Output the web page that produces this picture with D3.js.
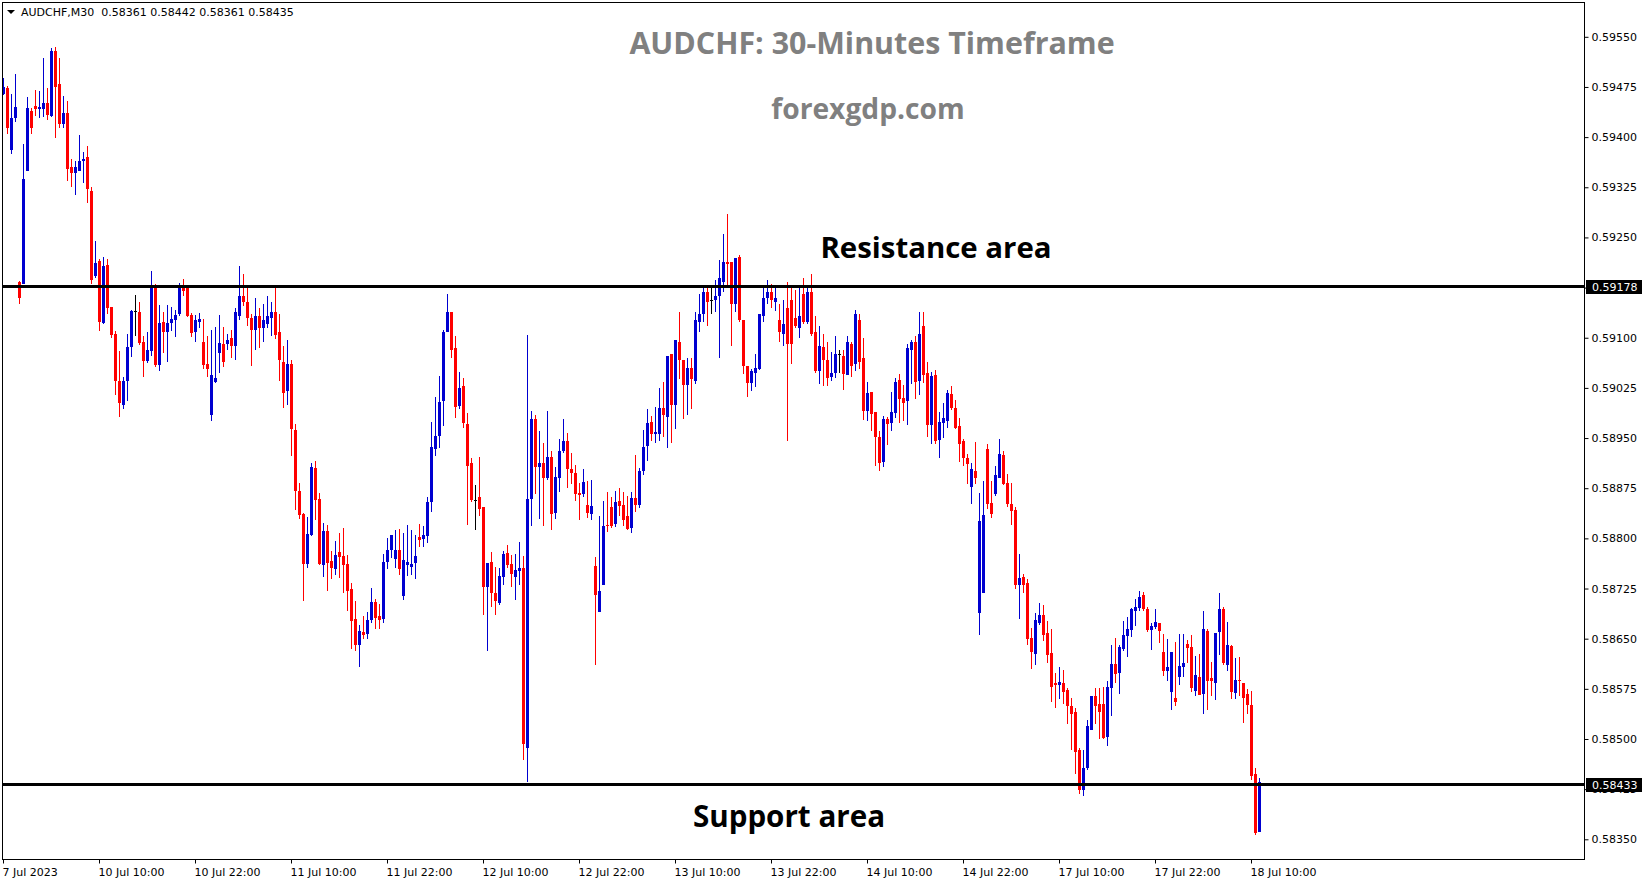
<!DOCTYPE html>
<html><head><meta charset="utf-8">
<script src="https://cdn.jsdelivr.net/npm/d3@7"></script>
<style>html,body{margin:0;padding:0;background:#fff;overflow:hidden}</style>
</head><body>
<svg id="c" width="1649" height="884"></svg>
<script>
// AUDCHF M30 candles, 7 Jul 2023 22:00 .. 18 Jul 2023 11:00
const openP = [0.59464,0.59474,0.59380,0.59428,0.59183,0.59181,0.59350,0.59439,0.59446,0.59442,
0.59442,0.59451,0.59431,0.59529,0.59479,0.59419,0.59436,0.59355,0.59346,0.59350,
0.59364,0.59370,0.59320,0.59193,0.59215,0.59122,0.59209,0.59146,0.59106,0.59035,
0.59000,0.59035,0.59086,0.59140,0.59138,0.59093,0.59065,0.59080,0.59177,0.59059,
0.59123,0.59108,0.59122,0.59126,0.59135,0.59176,0.59174,0.59134,0.59108,0.59123,
0.59093,0.59060,0.58985,0.59034,0.59077,0.59090,0.59090,0.59099,0.59087,0.59133,
0.59162,0.59154,0.59129,0.59111,0.59133,0.59114,0.59121,0.59130,0.59138,0.59108,
0.59064,0.59021,0.59061,0.58962,0.58871,0.58836,0.58761,0.58805,0.58905,0.58859,
0.58760,0.58811,0.58766,0.58754,0.58779,0.58773,0.58761,0.58725,0.58680,0.58641,
0.58660,0.58657,0.58678,0.58705,0.58684,0.58679,0.58764,0.58782,0.58769,0.58782,
0.58714,0.58760,0.58757,0.58763,0.58802,0.58799,0.58803,0.58854,0.58934,0.58953,
0.59006,0.59108,0.59138,0.59084,0.58998,0.59028,0.58971,0.58913,0.58857,0.58862,
0.58847,0.58727,0.58764,0.58719,0.58704,0.58742,0.58778,0.58762,0.58742,0.58751,
0.58756,0.58486,0.58859,0.58979,0.58906,0.58913,0.58891,0.58922,0.58838,0.58891,
0.58930,0.58946,0.58904,0.58897,0.58868,0.58867,0.58850,0.58837,0.58758,0.58690,
0.58730,0.58820,0.58847,0.58821,0.58856,0.58850,0.58833,0.58815,0.58860,0.58850,
0.58900,0.58938,0.58974,0.58956,0.58956,0.58995,0.58982,0.59076,0.59000,0.59094,
0.59067,0.59030,0.59055,0.59036,0.59124,0.59136,0.59168,0.59157,0.59157,0.59162,
0.59184,0.59213,0.59213,0.59151,0.59220,0.59127,0.59058,0.59033,0.59048,0.59054,
0.59133,0.59160,0.59168,0.59154,0.59126,0.59105,0.59145,0.59156,0.59129,0.59114,
0.59165,0.59123,0.59168,0.59108,0.59051,0.59086,0.59067,0.59042,0.59048,0.59075,
0.59072,0.59045,0.59091,0.59060,0.59126,0.59070,0.58991,0.59019,0.58989,0.58952,
0.58914,0.58979,0.58973,0.58988,0.59037,0.59010,0.59006,0.59082,0.59093,0.59036,
0.59117,0.59048,0.58970,0.59045,0.58947,0.58973,0.58976,0.59016,0.58995,0.58968,
0.58946,0.58920,0.58877,0.58901,0.58688,0.58718,0.58934,0.58853,0.58866,0.58890,
0.58925,0.58883,0.58851,0.58842,0.58730,0.58742,0.58733,0.58651,0.58627,0.58673,
0.58686,0.58658,0.58628,0.58583,0.58580,0.58583,0.58573,0.58550,0.58540,0.58483,
0.58424,0.58457,0.58514,0.58565,0.58553,0.58552,0.58503,0.58576,0.58612,0.58598,
0.58635,0.58654,0.58663,0.58692,0.58696,0.58716,0.58695,0.58663,0.58668,0.58673,
0.58630,0.58601,0.58570,0.58562,0.58592,0.58607,0.58642,0.58638,0.58572,0.58593,
0.58568,0.58662,0.58591,0.58584,0.58660,0.58694,0.58610,0.58639,0.58569,0.58588,
0.58583,0.58567,0.58551,0.58447,0.58361];
const highP = [0.59488,0.59477,0.59464,0.59494,0.59185,0.59390,0.59460,0.59443,0.59470,0.59469,
0.59518,0.59473,0.59533,0.59535,0.59518,0.59461,0.59454,0.59367,0.59364,0.59403,
0.59377,0.59386,0.59325,0.59244,0.59218,0.59221,0.59218,0.59146,0.59110,0.59080,
0.59042,0.59106,0.59141,0.59164,0.59153,0.59102,0.59108,0.59200,0.59180,0.59149,
0.59138,0.59149,0.59146,0.59141,0.59182,0.59188,0.59176,0.59137,0.59134,0.59137,
0.59128,0.59102,0.59111,0.59116,0.59134,0.59116,0.59106,0.59112,0.59144,0.59208,
0.59195,0.59174,0.59136,0.59159,0.59144,0.59151,0.59162,0.59153,0.59175,0.59135,
0.59088,0.59097,0.59067,0.58971,0.58883,0.58838,0.58832,0.58913,0.58916,0.58868,
0.58823,0.58820,0.58781,0.58796,0.58808,0.58816,0.58775,0.58734,0.58707,0.58671,
0.58684,0.58690,0.58726,0.58709,0.58702,0.58776,0.58800,0.58805,0.58812,0.58814,
0.58808,0.58820,0.58812,0.58805,0.58822,0.58818,0.58862,0.58974,0.59012,0.59043,
0.59112,0.59165,0.59139,0.59102,0.59049,0.59040,0.58988,0.58920,0.58880,0.58922,
0.58847,0.58763,0.58779,0.58757,0.58755,0.58781,0.58790,0.58775,0.58777,0.58795,
0.58774,0.59104,0.58991,0.58985,0.58961,0.58942,0.58990,0.58931,0.58907,0.58949,
0.58978,0.58958,0.58928,0.58910,0.58883,0.58904,0.58886,0.58888,0.58772,0.58833,
0.58856,0.58869,0.58862,0.58871,0.58875,0.58869,0.58863,0.58870,0.58925,0.58905,
0.58962,0.58994,0.58983,0.58997,0.59025,0.59034,0.59072,0.59076,0.59097,0.59138,
0.59067,0.59069,0.59070,0.59138,0.59165,0.59174,0.59174,0.59174,0.59186,0.59216,
0.59255,0.59285,0.59214,0.59219,0.59223,0.59127,0.59058,0.59054,0.59075,0.59136,
0.59174,0.59186,0.59180,0.59174,0.59150,0.59156,0.59184,0.59174,0.59171,0.59177,
0.59190,0.59174,0.59195,0.59133,0.59118,0.59106,0.59093,0.59078,0.59102,0.59082,
0.59082,0.59103,0.59094,0.59142,0.59136,0.59099,0.59034,0.59019,0.58989,0.58961,
0.58983,0.58982,0.59019,0.59040,0.59046,0.59030,0.59091,0.59097,0.59103,0.59138,
0.59138,0.59064,0.59049,0.59052,0.58989,0.59003,0.59022,0.59028,0.59007,0.58980,
0.58949,0.58926,0.58913,0.58944,0.58868,0.58886,0.58941,0.58886,0.58908,0.58949,
0.58931,0.58896,0.58883,0.58847,0.58776,0.58747,0.58739,0.58666,0.58688,0.58704,
0.58700,0.58676,0.58664,0.58598,0.58607,0.58603,0.58576,0.58562,0.58546,0.58486,
0.58483,0.58529,0.58565,0.58576,0.58576,0.58578,0.58587,0.58640,0.58651,0.58641,
0.58676,0.58683,0.58696,0.58710,0.58722,0.58720,0.58698,0.58674,0.58694,0.58673,
0.58657,0.58650,0.58630,0.58645,0.58657,0.58657,0.58648,0.58656,0.58624,0.58627,
0.58692,0.58664,0.58615,0.58659,0.58718,0.58698,0.58675,0.58640,0.58621,0.58623,
0.58583,0.58575,0.58572,0.58456,0.58442];
const lowP = [0.59463,0.59404,0.59374,0.59422,0.59151,0.59180,0.59350,0.59405,0.59431,0.59429,
0.59430,0.59425,0.59430,0.59398,0.59413,0.59413,0.59335,0.59326,0.59314,0.59350,
0.59332,0.59302,0.59181,0.59190,0.59110,0.59121,0.59136,0.59100,0.59014,0.58981,
0.58993,0.59005,0.59071,0.59102,0.59089,0.59041,0.59062,0.59072,0.59056,0.59051,
0.59077,0.59063,0.59110,0.59101,0.59132,0.59162,0.59131,0.59101,0.59093,0.59115,
0.59053,0.59042,0.58976,0.59033,0.59047,0.59056,0.59081,0.59069,0.59066,0.59127,
0.59147,0.59118,0.59057,0.59081,0.59085,0.59093,0.59114,0.59102,0.59098,0.59036,
0.58995,0.59000,0.58923,0.58842,0.58829,0.58707,0.58755,0.58803,0.58827,0.58760,
0.58742,0.58721,0.58739,0.58745,0.58740,0.58719,0.58691,0.58635,0.58632,0.58607,
0.58649,0.58649,0.58673,0.58664,0.58665,0.58674,0.58754,0.58771,0.58756,0.58745,
0.58708,0.58743,0.58745,0.58739,0.58787,0.58787,0.58793,0.58839,0.58923,0.58935,
0.58968,0.59108,0.59070,0.58980,0.58994,0.58965,0.58820,0.58854,0.58812,0.58833,
0.58686,0.58631,0.58698,0.58685,0.58700,0.58730,0.58756,0.58727,0.58708,0.58730,
0.58469,0.58435,0.58819,0.58867,0.58829,0.58819,0.58888,0.58813,0.58829,0.58870,
0.58927,0.58876,0.58882,0.58856,0.58828,0.58862,0.58831,0.58828,0.58610,0.58690,
0.58730,0.58809,0.58815,0.58817,0.58833,0.58818,0.58813,0.58808,0.58840,0.58845,
0.58895,0.58916,0.58946,0.58943,0.58946,0.58952,0.58935,0.58943,0.58964,0.59039,
0.58979,0.58985,0.58994,0.59031,0.59109,0.59123,0.59117,0.59136,0.59138,0.59070,
0.59168,0.59178,0.59087,0.59138,0.59123,0.59046,0.59012,0.59020,0.59027,0.59052,
0.59123,0.59150,0.59144,0.59140,0.59093,0.59088,0.58946,0.59060,0.59114,0.59100,
0.59121,0.59121,0.59102,0.59048,0.59031,0.59028,0.59028,0.59036,0.59040,0.59048,
0.59022,0.59045,0.59042,0.59051,0.59054,0.58977,0.58976,0.58961,0.58908,0.58901,
0.58907,0.58940,0.58961,0.58980,0.58973,0.58976,0.58970,0.59031,0.59009,0.59015,
0.59033,0.58952,0.58941,0.58941,0.58920,0.58950,0.58965,0.58992,0.58964,0.58914,
0.58908,0.58881,0.58851,0.58881,0.58656,0.58718,0.58844,0.58830,0.58863,0.58890,
0.58880,0.58847,0.58820,0.58725,0.58679,0.58718,0.58640,0.58604,0.58610,0.58670,
0.58647,0.58613,0.58555,0.58546,0.58560,0.58552,0.58523,0.58483,0.58448,0.58417,
0.58415,0.58453,0.58514,0.58522,0.58500,0.58500,0.58490,0.58534,0.58583,0.58568,
0.58632,0.58622,0.58652,0.58669,0.58692,0.58692,0.58660,0.58633,0.58665,0.58643,
0.58594,0.58586,0.58544,0.58549,0.58580,0.58592,0.58614,0.58570,0.58564,0.58566,
0.58538,0.58544,0.58564,0.58558,0.58625,0.58610,0.58601,0.58560,0.58560,0.58564,
0.58524,0.58537,0.58438,0.58357,0.58361];
const closeP = [0.59475,0.59414,0.59428,0.59445,0.59159,0.59338,0.59443,0.59413,0.59442,0.59445,
0.59451,0.59433,0.59529,0.59475,0.59419,0.59436,0.59353,0.59346,0.59355,0.59365,
0.59368,0.59322,0.59187,0.59212,0.59124,0.59208,0.59145,0.59104,0.59035,0.59002,
0.59035,0.59086,0.59140,0.59140,0.59092,0.59065,0.59081,0.59179,0.59059,0.59122,
0.59108,0.59122,0.59128,0.59134,0.59176,0.59170,0.59132,0.59107,0.59126,0.59128,
0.59059,0.59053,0.59044,0.59040,0.59092,0.59063,0.59096,0.59087,0.59138,0.59162,
0.59154,0.59129,0.59112,0.59132,0.59114,0.59126,0.59132,0.59139,0.59104,0.59066,
0.59018,0.59061,0.58964,0.58871,0.58835,0.58761,0.58806,0.58907,0.58857,0.58761,
0.58811,0.58763,0.58755,0.58775,0.58772,0.58760,0.58722,0.58676,0.58641,0.58661,
0.58655,0.58678,0.58705,0.58681,0.58678,0.58764,0.58782,0.58805,0.58782,0.58754,
0.58768,0.58764,0.58761,0.58773,0.58797,0.58805,0.58854,0.58937,0.58953,0.59004,
0.59108,0.59138,0.59082,0.58997,0.59025,0.58973,0.58908,0.58857,0.58857,0.58844,
0.58727,0.58763,0.58718,0.58706,0.58743,0.58776,0.58760,0.58747,0.58753,0.58756,
0.58492,0.58859,0.58978,0.58907,0.58913,0.58891,0.58922,0.58837,0.58892,0.58930,
0.58945,0.58903,0.58897,0.58867,0.58865,0.58885,0.58838,0.58849,0.58715,0.58722,
0.58818,0.58818,0.58818,0.58854,0.58848,0.58827,0.58814,0.58860,0.58850,0.58900,
0.58937,0.58973,0.58956,0.58959,0.58995,0.58985,0.59072,0.59000,0.59097,0.59066,
0.59030,0.59055,0.59039,0.59126,0.59136,0.59169,0.59154,0.59157,0.59162,0.59189,
0.59214,0.59211,0.59151,0.59219,0.59126,0.59057,0.59033,0.59051,0.59055,0.59135,
0.59160,0.59168,0.59156,0.59159,0.59108,0.59121,0.59090,0.59090,0.59117,0.59132,
0.59123,0.59168,0.59105,0.59051,0.59087,0.59066,0.59040,0.59048,0.59075,0.59075,
0.59046,0.59093,0.59057,0.59135,0.59064,0.58991,0.59018,0.58986,0.58952,0.58913,
0.58979,0.58971,0.58989,0.59034,0.59009,0.59003,0.59084,0.59093,0.59034,0.59106,
0.59045,0.58970,0.59043,0.58946,0.58974,0.58980,0.59018,0.58995,0.58965,0.58941,
0.58920,0.58911,0.58904,0.58890,0.58826,0.58835,0.58851,0.58836,0.58895,0.58926,
0.58881,0.58851,0.58841,0.58731,0.58740,0.58730,0.58649,0.58630,0.58678,0.58686,
0.58655,0.58625,0.58577,0.58580,0.58585,0.58571,0.58550,0.58538,0.58481,0.58423,
0.58457,0.58519,0.58565,0.58550,0.58541,0.58501,0.58578,0.58612,0.58597,0.58638,
0.58656,0.58664,0.58694,0.58698,0.58713,0.58695,0.58663,0.58669,0.58675,0.58661,
0.58601,0.58607,0.58630,0.58555,0.58609,0.58613,0.58636,0.58576,0.58596,0.58566,
0.58664,0.58587,0.58587,0.58659,0.58694,0.58613,0.58640,0.58570,0.58588,0.58587,
0.58561,0.58551,0.58444,0.58360,0.58435];

const priceTicks = [0.58350,0.58425,0.58500,0.58575,0.58650,0.58725,0.58800,0.58875,0.58950,
  0.59025,0.59100,0.59175,0.59250,0.59325,0.59400,0.59475,0.59550];
const timeTickIndex = [0,24,48,72,96,120,144,168,192,216,240,264,288,312];
const timeTickLabels = ["7 Jul 2023","10 Jul 10:00","10 Jul 22:00","11 Jul 10:00","11 Jul 22:00",
  "12 Jul 10:00","12 Jul 22:00","13 Jul 10:00","13 Jul 22:00","14 Jul 10:00","14 Jul 22:00",
  "17 Jul 10:00","17 Jul 22:00","18 Jul 10:00"];
const levelValues = [0.59178, 0.58433];
const levelNames = ["Resistance area", "Support area"];
const headerText = "AUDCHF,M30  0.58361 0.58442 0.58361 0.58435";
const titleText = "AUDCHF: 30-Minutes Timeframe";
const siteText = "forexgdp.com";

const svg = d3.select('#c');
const L = 2, R = 1585, T = 2, B = 860;
const N = openP.length;
const x = d3.scaleLinear().domain([0, N - 1]).range([3, 3 + 4 * (N - 1)]);
const y = d3.scaleLinear().domain([0.58350, 0.59550]).range([839.3, 36.8]);
const FONT = "'DejaVu Sans', Tahoma, sans-serif";

svg.append('rect').attr('width', 1649).attr('height', 884).attr('fill', '#fff');

svg.append('clipPath').attr('id', 'plot').append('rect')
  .attr('x', L).attr('y', T).attr('width', R - L).attr('height', B - T);

// candles
const data = d3.range(N).map(i => ({i, o: openP[i], h: highP[i], l: lowP[i], c: closeP[i]}));
const col = d => d.c > d.o ? '#0000d0' : (d.c < d.o ? '#ff0000' : '#000000');
const g = svg.append('g').attr('clip-path', 'url(#plot)');
const cg = g.selectAll('g.k').data(data).join('g').attr('class', 'k');
cg.append('rect')
  .attr('x', d => x(d.i)).attr('width', 1)
  .attr('y', d => Math.round(y(d.h)))
  .attr('height', d => Math.max(1, Math.round(y(d.l)) - Math.round(y(d.h))))
  .attr('fill', col);
cg.append('rect')
  .attr('x', d => x(d.i) - 1).attr('width', 3)
  .attr('y', d => Math.round(y(Math.max(d.o, d.c))))
  .attr('height', d => Math.max(1, Math.round(y(Math.min(d.o, d.c))) - Math.round(y(Math.max(d.o, d.c)))))
  .attr('fill', col);

// horizontal levels
g.selectAll('line.lvl').data(levelValues).join('line').attr('class', 'lvl')
  .attr('x1', L).attr('x2', R)
  .attr('y1', d => Math.round(y(d)) + 0.5).attr('y2', d => Math.round(y(d)) + 0.5)
  .attr('stroke', '#000').attr('stroke-width', 3);

// frame
svg.append('rect').attr('x', L + 0.5).attr('y', T + 0.5)
  .attr('width', R - L - 1).attr('height', B - T - 1)
  .attr('fill', 'none').attr('stroke', '#000').attr('stroke-width', 1);

// price axis
const ya = svg.append('g').attr('transform', `translate(${R - 0.5},0)`)
  .call(d3.axisRight(y).tickValues(priceTicks).tickSize(4).tickPadding(3)
    .tickFormat(d3.format('.5f')));
ya.select('.domain').remove();
ya.selectAll('text').attr('font-family', FONT).attr('font-size', 11).attr('fill', '#000');
ya.selectAll('line').attr('stroke', '#000');

// level labels on the price axis
const lab = svg.append('g');
levelValues.forEach(v => {
  const yy = Math.round(y(v));
  lab.append('rect').attr('x', R + 1).attr('y', yy - 6).attr('width', 56).attr('height', 14).attr('fill', '#000');
  lab.append('text').attr('x', R + 7).attr('y', yy + 1).attr('dy', '0.32em')
    .attr('font-family', FONT).attr('font-size', 11).attr('fill', '#fff').text(d3.format('.5f')(v));
});

// time axis
const xa = svg.append('g').attr('transform', `translate(0,${B - 0.5})`)
  .call(d3.axisBottom(x).tickValues(timeTickIndex).tickSize(4).tickPadding(5)
    .tickFormat((d, k) => timeTickLabels[k]));
xa.select('.domain').remove();
xa.selectAll('text').attr('font-family', FONT).attr('font-size', 11).attr('fill', '#000')
  .attr('text-anchor', 'start').attr('x', -1);
xa.selectAll('line').attr('stroke', '#000');

// header
svg.append('path').attr('d', 'M7,10 L15,10 L11,14 Z').attr('fill', '#000');
svg.append('text').attr('x', 21).attr('y', 16).attr('font-family', FONT).attr('font-size', 11)
  .attr('fill', '#000').attr('xml:space', 'preserve').style('white-space', 'pre').text(headerText);

// titles
const TF = "'Open Sans', 'Noto Sans', sans-serif";
svg.append('text').attr('x', 872).attr('y', 54).attr('text-anchor', 'middle')
  .attr('font-family', TF).attr('font-weight', 700).attr('font-size', 30.4).attr('fill', '#808080').text(titleText);
svg.append('text').attr('x', 868).attr('y', 119).attr('text-anchor', 'middle')
  .attr('font-family', TF).attr('font-weight', 700).attr('font-size', 28.2).attr('fill', '#808080').text(siteText);
svg.append('text').attr('x', 936).attr('y', 257.5).attr('text-anchor', 'middle')
  .attr('font-family', TF).attr('font-weight', 700).attr('font-size', 29.4).attr('fill', '#000').text(levelNames[0]);
svg.append('text').attr('x', 789).attr('y', 827).attr('text-anchor', 'middle')
  .attr('font-family', TF).attr('font-weight', 700).attr('font-size', 29.6).attr('fill', '#000').text(levelNames[1]);
</script>
</body></html>
